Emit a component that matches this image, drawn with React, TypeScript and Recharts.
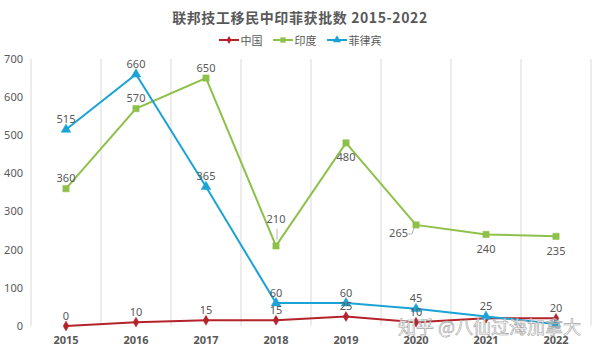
import React from "react";
import { LineChart, Line, XAxis, YAxis, CartesianGrid, LabelList, Symbols } from "recharts";

const years = [2015, 2016, 2017, 2018, 2019, 2020, 2021, 2022];
const china = [0, 10, 15, 15, 25, 10, 20, 20];
const india = [360, 570, 650, 210, 480, 265, 240, 235];
const philippines = [515, 660, 365, 60, 60, 45, 25, 5];
const yTicks = [0, 100, 200, 300, 400, 500, 600, 700];
const gridTicks = [2014.5, 2015.5, 2016.5, 2017.5, 2018.5, 2019.5, 2020.5, 2021.5, 2022.5];

const TITLE = "联邦技工移民中印菲获批数 2015-2022";

const series = [
  { key: "china", name: "中国", color: "#B5232A", shape: "diamond", size: 28, values: china },
  { key: "india", name: "印度", color: "#8DC149", shape: "square", size: 40, values: india },
  { key: "philippines", name: "菲律宾", color: "#1BA3D6", shape: "triangle", size: 40, values: philippines },
];

// label placement overrides (series key -> index -> placement)
const placements: Record<string, Record<number, string>> = {
  china: { 6: "none" },
  india: { 3: "high", 4: "below", 5: "leftbelow", 6: "below", 7: "below" },
  philippines: { 7: "none" },
};

const data = years.map((y, i) => ({
  year: y,
  china: china[i],
  india: india[i],
  philippines: philippines[i],
}));

const FONT = "'Noto Sans', 'Noto Sans CJK SC', sans-serif";
const GRAY = "#595959";

function makeDot(shape: string, size: number, color: string) {
  return (props: any) => {
    const { cx, cy, index } = props;
    if (cx == null || cy == null) return <g key={index} />;
    return <Symbols key={index} cx={cx} cy={cy} type={shape as any} size={size} fill={color} stroke={color} strokeWidth={0.5} />;
  };
}

function makeLabel(key: string) {
  return (props: any) => {
    const { x, y, value, index } = props;
    const p = (placements[key] || {})[index] || "above";
    if (p === "none") return null;
    let tx = x;
    let ty = y - 11;
    let anchor: "middle" | "end" = "middle";
    let leader: React.ReactNode = null;
    if (p === "below") ty = y + 14;
    if (p === "high") {
      ty = y - 27;
      leader = <line x1={x + 1} y1={y - 17} x2={x + 1} y2={y - 6} stroke="#A6A6A6" strokeWidth={0.8} />;
    }
    if (p === "leftbelow") {
      tx = x - 8;
      ty = y + 8;
      anchor = "end";
      leader = <polyline points={`${x - 8},${y + 9} ${x - 4},${y + 9} ${x - 2},${y + 3}`} fill="none" stroke="#A6A6A6" strokeWidth={0.8} />;
    }
    return (
      <g key={`${key}-${index}`}>
        {leader}
        <text x={tx} y={ty} textAnchor={anchor} dominantBaseline="central" fontSize={11} fill={GRAY} fontFamily={FONT}>
          {value}
        </text>
      </g>
    );
  };
}

export default function App() {
  return (
    <div style={{ position: "absolute", left: 0, top: 0, width: 600, height: 351, background: "#fff", fontFamily: FONT }}>
      <div style={{ position: "absolute", left: 0, top: 7, width: 600, textAlign: "center", fontSize: 14, fontWeight: 700, color: GRAY, fontFamily: "'Noto Sans CJK SC', sans-serif", letterSpacing: 0.6 }}>
        {TITLE}
      </div>
      <div style={{ position: "absolute", left: 0, top: 32, width: 600, display: "flex", justifyContent: "center", gap: 10, fontSize: 11, color: GRAY, fontFamily: "'Noto Sans CJK SC', sans-serif" }}>
        {series.map((s) => (
          <div key={s.key} style={{ display: "flex", alignItems: "center", gap: 2 }}>
            <svg width={20} height={12}>
              <line x1={0} y1={6} x2={20} y2={6} stroke={s.color} strokeWidth={2} />
              <Symbols cx={10} cy={6} type={s.shape as any} size={s.size * 0.7} fill={s.color} />
            </svg>
            <span>{s.name}</span>
          </div>
        ))}
      </div>
      <LineChart width={600} height={351} data={data} margin={{ top: 59, right: 9, bottom: 0, left: 0 }}>
        <CartesianGrid xAxisId="grid" horizontal={false} vertical stroke="#D9D9D9" />
        <XAxis xAxisId="grid" dataKey="year" type="number" domain={[2014.5, 2022.5]} ticks={gridTicks} hide />
        <XAxis
          dataKey="year"
          type="number"
          domain={[2014.5, 2022.5]}
          ticks={years}
          interval={0}
          axisLine={false}
          tickLine={false}
          tickMargin={4}
          height={25}
          tick={{ fontSize: 11, fill: GRAY, fontWeight: 700, fontFamily: FONT }}
        />
        <YAxis
          width={31}
          domain={[0, 700]}
          ticks={yTicks}
          interval={0}
          axisLine={false}
          tickLine={false}
          tick={{ fontSize: 11, fill: GRAY, fontFamily: FONT }}
        />
        {series.map((s) => (
          <Line
            key={s.key}
            dataKey={s.key}
            name={s.name}
            stroke={s.color}
            strokeWidth={2}
            isAnimationActive={false}
            dot={makeDot(s.shape, s.size, s.color)}
            activeDot={false}
          >
            <LabelList dataKey={s.key} content={makeLabel(s.key)} />
          </Line>
        ))}
      </LineChart>
      <div style={{ position: "absolute", left: 398, top: 313, fontSize: 18, color: "#fff", WebkitTextStroke: "0.6px #9a9a9a", fontFamily: "'Noto Sans CJK SC', sans-serif", opacity: 0.9, whiteSpace: "nowrap" }}>
        知乎 @八仙过海加拿大
      </div>
    </div>
  );
}
